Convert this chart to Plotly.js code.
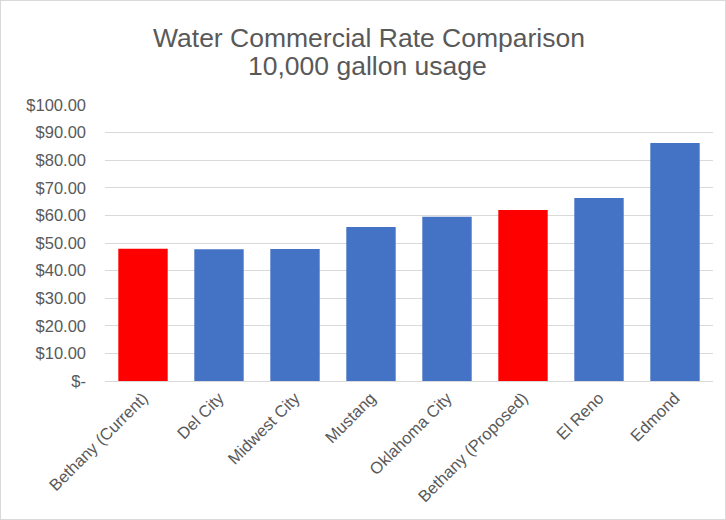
<!DOCTYPE html>
<html>
<head>
<meta charset="utf-8">
<script src="https://cdn.plot.ly/plotly-3.0.1.min.js"></script>
<style>
html,body{margin:0;padding:0;background:#fff;}
#chart{width:726px;height:520px;box-sizing:border-box;border:1px solid #d9d9d9;}
</style>
</head>
<body>
<div id="chart"></div>
<script>
const categories = ["Bethany (Current)", "Del City", "Midwest City", "Mustang", "Oklahoma City", "Bethany (Proposed)", "El Reno", "Edmond"];
const rates = [47.9, 47.7, 47.8, 55.8, 59.5, 62.0, 66.3, 86.2];
const barColors = ["#ff0000", "#4472c4", "#4472c4", "#4472c4", "#4472c4", "#ff0000", "#4472c4", "#4472c4"];
const yTickVals = [0, 10, 20, 30, 40, 50, 60, 70, 80, 90, 100];
const yTickText = ["$-", "$10.00", "$20.00", "$30.00", "$40.00", "$50.00", "$60.00", "$70.00", "$80.00", "$90.00", "$100.00"];
const titleLine1 = "Water Commercial Rate Comparison";
const titleLine2 = "10,000 gallon usage";

const trace = {
  type: "bar",
  x: categories,
  y: rates,
  marker: {color: barColors},
  hoverinfo: "x+y"
};

const FONT = "Liberation Sans, Arial, sans-serif";
const titleFont = {size: 26.5, color: "#595959", family: FONT};

const layout = {
  width: 724,
  height: 518,
  margin: {l: 104, r: 12, t: 104, b: 138},
  paper_bgcolor: "#ffffff",
  plot_bgcolor: "#ffffff",
  font: {family: FONT, color: "#595959", size: 16.5},
  annotations: [{
    text: titleLine1,
    xref: "paper", yref: "paper",
    x: 0.434, y: 1.242, xanchor: "center", yanchor: "middle",
    showarrow: false,
    font: titleFont
  }, {
    text: titleLine2,
    xref: "paper", yref: "paper",
    x: 0.432, y: 1.14, xanchor: "center", yanchor: "middle",
    showarrow: false,
    font: titleFont
  }],
  bargap: 0.35,
  showlegend: false,
  xaxis: {
    tickangle: -45,
    tickfont: {size: 16.5, color: "#595959"},
    showgrid: false,
    showline: true,
    linecolor: "#d9d9d9",
    linewidth: 1,
    ticks: ""
  },
  yaxis: {
    range: [0, 100],
    tickvals: yTickVals,
    ticktext: yTickText,
    tickfont: {size: 16.5, color: "#595959"},
    showgrid: true,
    gridcolor: "#d9d9d9",
    gridwidth: 1,
    zeroline: false,
    showline: false,
    ticks: "",
    ticklabelstandoff: 18
  }
};

Plotly.newPlot("chart", [trace], layout, {displayModeBar: false, staticPlot: true});
</script>
</body>
</html>
